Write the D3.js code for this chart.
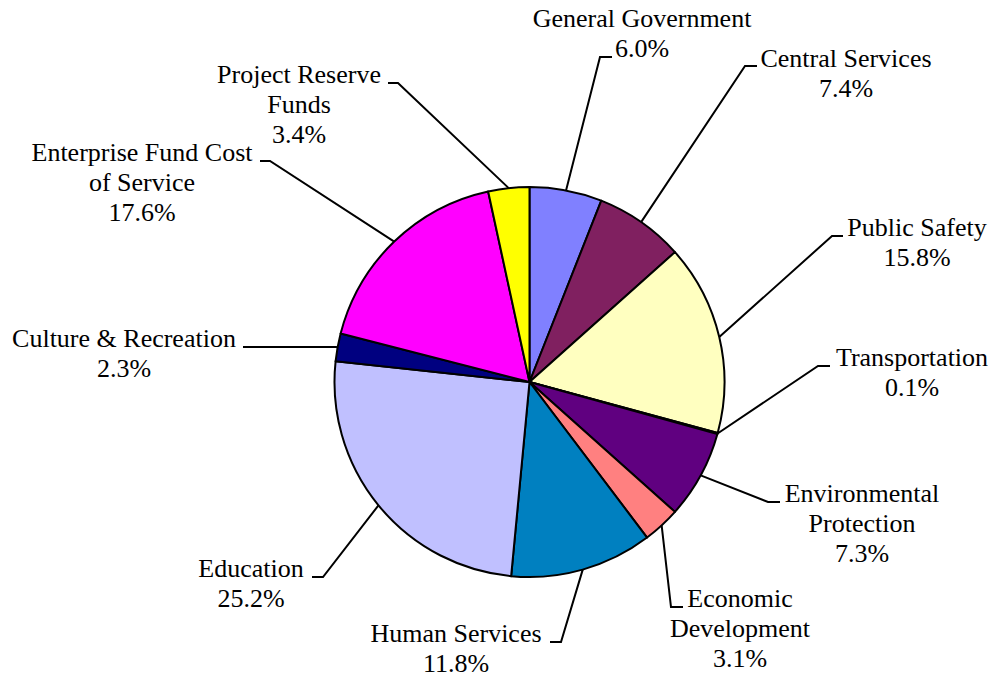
<!DOCTYPE html>
<html>
<head>
<meta charset="utf-8">
<script src="https://cdn.jsdelivr.net/npm/d3@7"></script>
<style>
  html, body { margin: 0; padding: 0; background: #ffffff; }
  svg { display: block; }
</style>
</head>
<body>
<svg id="chart" width="993" height="677"></svg>
<script>
// Budget share by function area, clockwise from 12 o'clock
const categories = [
  ["General Government"],
  ["Central Services"],
  ["Public Safety"],
  ["Transportation"],
  ["Environmental", "Protection"],
  ["Economic", "Development"],
  ["Human Services"],
  ["Education"],
  ["Culture & Recreation"],
  ["Enterprise Fund Cost", "of Service"],
  ["Project Reserve", "Funds"]
];
const shares = [6.0, 7.4, 15.8, 0.1, 7.3, 3.1, 11.8, 25.2, 2.3, 17.6, 3.4];
const sliceColors = ["#8080FF", "#802060", "#FFFFC0", "#FFFFFF", "#600080", "#FF8080",
                     "#0080C0", "#C0C0FF", "#000080", "#FF00FF", "#FFFF00"];

// Label placement: leader elbow, hook length (sign = side), text centre x, first baseline
const labelLayout = [
  { elbow: [600, 57],  hook: 12,  cx: 642, y0: 27 },
  { elbow: [745, 66],  hook: 12,  cx: 846, y0: 67 },
  { elbow: [832, 236], hook: 11,  cx: 917, y0: 236 },
  { elbow: [818, 366], hook: 12,  cx: 912, y0: 366 },
  { elbow: [768, 502], hook: 12,  cx: 862, y0: 502 },
  { elbow: [671, 607], hook: 12,  cx: 740, y0: 607 },
  { elbow: [561, 642], hook: -11, cx: 456, y0: 642 },
  { elbow: [323, 577], hook: -11, cx: 251, y0: 577 },
  { elbow: [336, 347], hook: -93, cx: 124, y0: 347 },
  { elbow: [270, 161], hook: -10, cx: 142, y0: 161 },
  { elbow: [398, 83],  hook: -10, cx: 299, y0: 83 }
];

const cx = 529.5, cy = 382, radius = 195;
const lineGap = 30;
const fontStack = "'Liberation Serif', 'Times New Roman', Times, serif";

const svg = d3.select("#chart");
const g = svg.append("g").attr("transform", `translate(${cx},${cy})`);

const pie = d3.pie().sort(null).value(d => d);
const arcs = pie(shares);
const arc = d3.arc().innerRadius(0).outerRadius(radius);

g.selectAll("path.slice")
  .data(arcs)
  .join("path")
  .attr("class", "slice")
  .attr("d", arc)
  .attr("fill", (d, i) => sliceColors[i])
  .attr("stroke", "#000")
  .attr("stroke-width", 2)
  .attr("stroke-linejoin", "round");

// Leader lines: from the arc's mid-angle on the rim, to the elbow, then a short hook
const rimPoint = d => {
  const a = (d.startAngle + d.endAngle) / 2;
  return [cx + radius * Math.sin(a), cy - radius * Math.cos(a)];
};

svg.append("g")
  .selectAll("polyline")
  .data(arcs)
  .join("polyline")
  .attr("points", (d, i) => {
    const L = labelLayout[i];
    const p = rimPoint(d);
    return [p, L.elbow, [L.elbow[0] + L.hook, L.elbow[1]]].map(q => q.join(",")).join(" ");
  })
  .attr("fill", "none")
  .attr("stroke", "#000")
  .attr("stroke-width", 2);

// Labels: category name lines followed by the share
const labels = svg.append("g")
  .attr("font-family", fontStack)
  .attr("font-size", 26)
  .attr("fill", "#000")
  .selectAll("text")
  .data(arcs)
  .join("text")
  .attr("text-anchor", "middle");

labels.each(function(d, i) {
  const L = labelLayout[i];
  const lines = categories[i].concat([d.data.toFixed(1) + "%"]);
  d3.select(this).selectAll("tspan")
    .data(lines)
    .join("tspan")
    .attr("x", L.cx)
    .attr("y", (t, k) => L.y0 + k * lineGap)
    .text(t => t);
});
</script>
</body>
</html>
